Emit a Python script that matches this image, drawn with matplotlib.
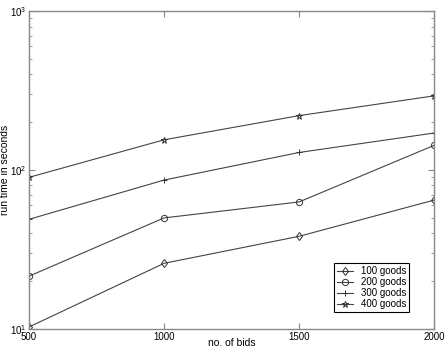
import numpy as np
import matplotlib
matplotlib.use('Agg')
import matplotlib.pyplot as plt

plt.rcParams['font.family'] = ['Liberation Sans', 'DejaVu Sans']
plt.rcParams['font.size'] = 7.5

bids = [500, 1000, 1500, 2000]
goods_labels = ['100 goods', '200 goods', '300 goods', '400 goods']
run_100 = [10.3, 25.9, 38.3, 64.7]
run_200 = [21.5, 50, 63, 143]
run_300 = [49, 86.5, 129, 171]
run_400 = [90, 155, 220, 293]

series = [run_100, run_200, run_300, run_400]
markers = ['d', 'o', '+', '*']

fig = plt.figure(figsize=(4.47, 3.54), dpi=100)
ax = fig.add_axes([0.065, 0.0706, 0.906, 0.898])

for vals, mk, lab in zip(series, markers, goods_labels):
    ax.plot(bids, vals, color='#444444', lw=0.8, marker=mk, markersize=4.5,
            markerfacecolor='none', markeredgecolor='#333333', markeredgewidth=0.7,
            label=lab)

ax.set_yscale('log')
ax.set_xlim(500, 2000)
ax.set_ylim(10, 1000)
ax.set_xticks(bids)
ax.set_xlabel('no. of bids')
ax.xaxis.set_label_coords(0.5, -0.028)
ax.set_ylabel('run time in seconds')
ax.yaxis.set_label_coords(-0.047, 0.5)

for s in ax.spines.values():
    s.set_color('#888888')
    s.set_linewidth(1.0)
ax.tick_params(which='both', direction='in', colors='#888888', labelcolor='black',
               top=True, right=True, pad=2, labelsize=7)
ax.tick_params(which='major', length=4)
ax.tick_params(which='minor', length=2)

leg = ax.legend(loc='lower right', bbox_to_anchor=(0.938, 0.053), borderaxespad=0,
                fancybox=False, edgecolor='black', framealpha=1, fontsize=7,
                handlelength=1.6, handletextpad=0.8, borderpad=0.3,
                labelspacing=0.1)
leg.get_frame().set_linewidth(0.8)

plt.savefig('out.png', dpi=100)
